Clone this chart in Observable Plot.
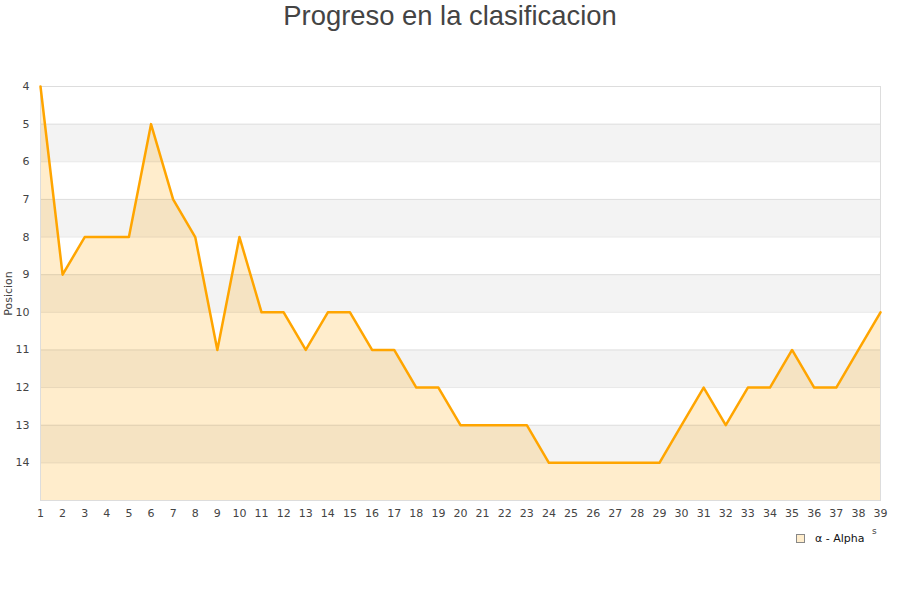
<!DOCTYPE html>
<html><head><meta charset="utf-8">
<script src="https://cdn.jsdelivr.net/npm/d3@7"></script>
<script src="https://cdn.jsdelivr.net/npm/@observablehq/plot@0.6"></script>
<style>
body{margin:0;background:#fff;font-family:"DejaVu Sans",sans-serif;}
#wrap{position:relative;width:900px;height:600px;}
#title{position:absolute;top:0;left:0;width:900px;text-align:center;font-size:27.4px;color:#444;line-height:32px;font-family:"Liberation Sans",Arial,sans-serif;}
#legend{position:absolute;left:796px;top:532px;font-size:11px;color:#111;display:flex;align-items:center;}
#legend span.sw{display:inline-block;width:7px;height:7px;border:1px solid #888;background:#ffedcc;margin-right:10px;}
#xl{position:absolute;left:872px;top:526px;font-size:9px;color:#444;}
#chart{position:absolute;top:0;left:0;}
</style></head>
<body><div id="wrap"><div id="title">Progreso en la clasificacion</div><div id="chart"></div>
<div id="legend"><span class="sw"></span>α - Alpha</div><div id="xl">s</div></div>
<script>
const jornadas = d3.range(1, 40);
const posiciones = [4,9,8,8,8,5,7,8,11,8,10,10,11,10,10,11,11,12,12,13,13,13,13,14,14,14,14,14,14,13,12,13,12,12,11,12,12,11,10];
const bandStarts = [5,7,9,11,13];
const yTicks = [4,5,6,7,8,9,10,11,12,13,14];
const yDomain = [4,15];
const seriesName = "α - Alpha";

const data = jornadas.map((j,i)=>({j, p: posiciones[i]}));
const bands = bandStarts.map(b=>({y1:b, y2:b+1}));

const plot = Plot.plot({
  width: 900, height: 600,
  marginTop: 86, marginBottom: 100, marginLeft: 40, marginRight: 20,
  style: {fontFamily: "DejaVu Sans, sans-serif", fontSize: "11px", color: "#444", background: "transparent"},
  x: {domain: [1,39], ticks: jornadas, tickFormat: d=>String(d), tickSize: 0, tickPadding: 9, label: null},
  y: {domain: yDomain, reverse: true, ticks: yTicks, tickSize: 0, tickPadding: 11, label: "Posicion", labelAnchor: "center", labelOffset: 36},
  marks: [
    Plot.rect(bands, {x1: 1, x2: 39, y1: "y1", y2: "y2", fill: "#f3f3f3"}),
    Plot.areaY(data, {x: "j", y1: yDomain[1], y2: "p", fill: "orange", fillOpacity: 0.2}),
    Plot.gridY(yTicks, {stroke: "#000", strokeOpacity: 0.09}),
    Plot.frame({stroke: "#ddd"}),
    Plot.line(data, {x: "j", y: "p", stroke: "orange", strokeWidth: 2.5}),
    Plot.axisX({ticks: jornadas, tickSize: 0, tickPadding: 9, tickFormat: d=>String(d), label: null}),
    Plot.axisY({ticks: yTicks, tickSize: 0, tickPadding: 11, label: "Posicion", labelAnchor: "center", labelArrow: "none", labelOffset: 36})
  ]
});
document.getElementById("chart").appendChild(plot);
</script>
</body></html>
